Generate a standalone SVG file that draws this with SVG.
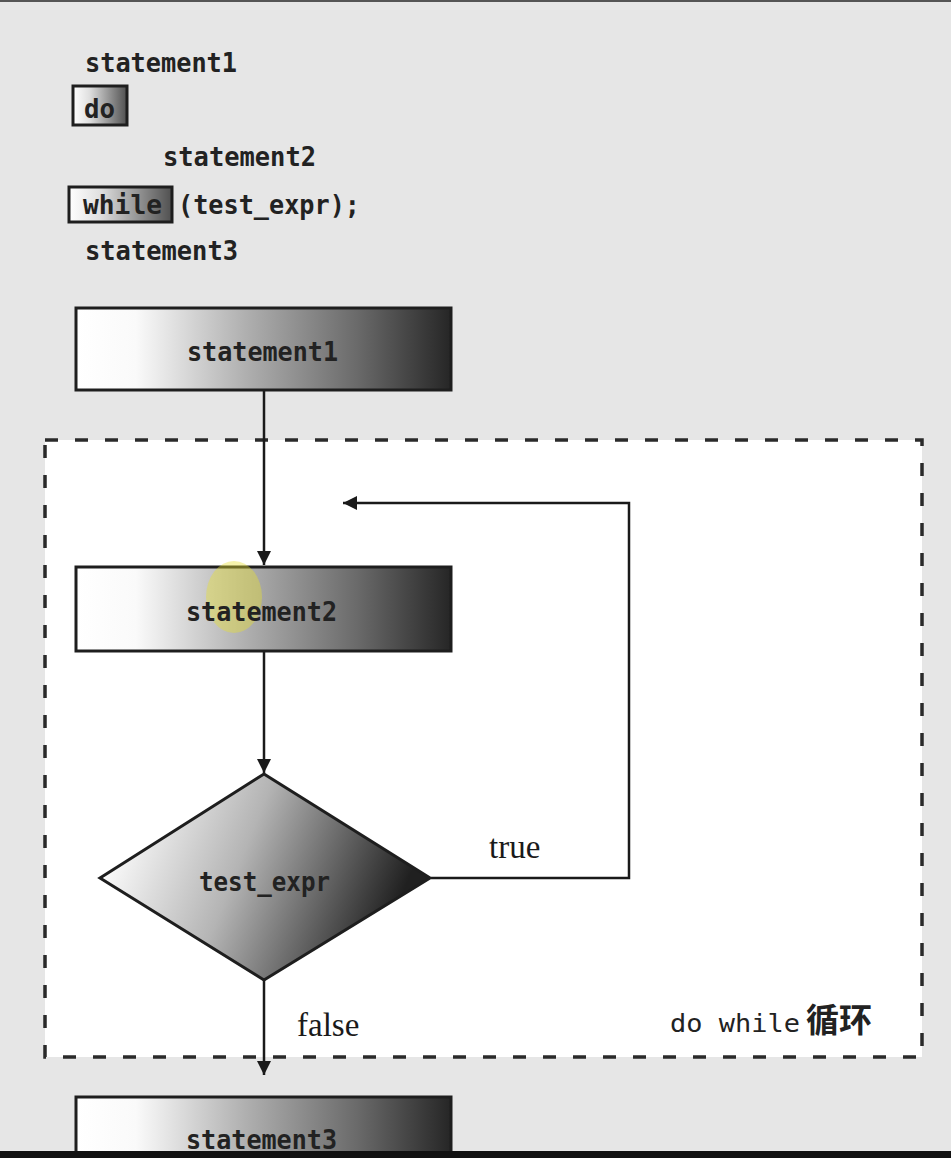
<svg xmlns="http://www.w3.org/2000/svg" width="951" height="1158" viewBox="0 0 951 1158">
<defs>
<linearGradient id="g" x1="0" y1="0" x2="1" y2="0">
<stop offset="0" stop-color="#ffffff"/>
<stop offset="0.16" stop-color="#fafafa"/>
<stop offset="0.45" stop-color="#b0b0b0"/>
<stop offset="0.75" stop-color="#6a6a6a"/>
<stop offset="1" stop-color="#262626"/>
</linearGradient>
<linearGradient id="gs" x1="0" y1="0" x2="1" y2="0">
<stop offset="0" stop-color="#ffffff"/>
<stop offset="0.3" stop-color="#e0e0e0"/>
<stop offset="1" stop-color="#505050"/>
</linearGradient>
<linearGradient id="gd" x1="0" y1="0" x2="1" y2="0.25">
<stop offset="0.1" stop-color="#ffffff"/>
<stop offset="0.5" stop-color="#b4b4b4"/>
<stop offset="1" stop-color="#202020"/>
</linearGradient>
<marker id="ah" viewBox="0 0 10 10" refX="10" refY="5" markerWidth="14" markerHeight="14" markerUnits="userSpaceOnUse" orient="auto">
<path d="M0,0 L10,5 L0,10 z" fill="#1a1a1a"/>
</marker>
<style>
.code{font-family:"DejaVu Sans Mono","Liberation Mono",monospace;font-size:27px;font-weight:bold;fill:#222}
.box{stroke:#1e1e1e;stroke-width:3}
.lbl{font-family:"DejaVu Sans Mono","Liberation Mono",monospace;font-size:26px;font-weight:bold;fill:#222}
.ser{font-family:"Liberation Serif",serif;font-size:33px;fill:#1a1a1a}
.line{stroke:#1a1a1a;stroke-width:2.5;fill:none}
</style>
</defs>
<rect x="0" y="0" width="951" height="1158" fill="#e6e6e6"/>
<rect x="0" y="0" width="951" height="2" fill="#555"/>

<g id="code">
<text class="code" x="85" y="72" textLength="152" lengthAdjust="spacingAndGlyphs">statement1</text>
<rect class="box" x="73" y="86" width="54" height="39" fill="url(#gs)"/>
<text class="code" x="84" y="118" textLength="31" lengthAdjust="spacingAndGlyphs">do</text>
<text class="code" x="163" y="166" textLength="153" lengthAdjust="spacingAndGlyphs">statement2</text>
<rect class="box" x="69" y="187" width="103" height="35" fill="url(#gs)"/>
<text class="code" x="83" y="214" textLength="79" lengthAdjust="spacingAndGlyphs">while</text>
<text class="code" x="178" y="214" textLength="182" lengthAdjust="spacingAndGlyphs">(test_expr);</text>
<text class="code" x="85" y="260" textLength="153" lengthAdjust="spacingAndGlyphs">statement3</text>
</g>

<g id="loop-frame">
<rect x="45" y="440" width="877" height="617" fill="#ffffff" stroke="#2a2a2a" stroke-width="3.5" stroke-dasharray="13 17"/>
<text x="670" y="1032" font-family="DejaVu Sans Mono,'Liberation Mono',monospace" font-size="25" fill="#222" textLength="130" lengthAdjust="spacingAndGlyphs">do while</text>
<text x="806" y="1032" font-family="'Noto Sans CJK SC',sans-serif" font-size="33" font-weight="bold" fill="#222">循环</text>
</g>

<g id="connectors">
<line class="line" x1="264" y1="391" x2="264" y2="565" marker-end="url(#ah)"/>
<line class="line" x1="264" y1="652" x2="264" y2="773" marker-end="url(#ah)"/>
<polyline class="line" points="431,878 629,878 629,503 343,503" marker-end="url(#ah)"/>
<line class="line" x1="264" y1="980" x2="264" y2="1075" marker-end="url(#ah)"/>
<text class="ser" x="489" y="858">true</text>
<text class="ser" x="297" y="1036">false</text>
</g>

<g id="statement1">
<rect class="box" x="76" y="308" width="375" height="82" fill="url(#g)"/>
<text class="lbl" x="187" y="361" textLength="151" lengthAdjust="spacingAndGlyphs">statement1</text>
</g>

<g id="statement2">
<rect class="box" x="76" y="567" width="375" height="84" fill="url(#g)"/>
<ellipse cx="234" cy="597" rx="28" ry="36" fill="#e8e030" opacity="0.4"/>
<text class="lbl" x="186" y="621" textLength="151" lengthAdjust="spacingAndGlyphs">statement2</text>
</g>

<g id="test_expr">
<polygon points="100,878 264,774 430,878 264,980" fill="url(#gd)" stroke="#1e1e1e" stroke-width="3"/>
<text class="lbl" x="199" y="891" textLength="131" lengthAdjust="spacingAndGlyphs">test_expr</text>
</g>

<g id="statement3">
<rect class="box" x="76" y="1097" width="375" height="80" fill="url(#g)"/>
<text class="lbl" x="186" y="1149" textLength="151" lengthAdjust="spacingAndGlyphs">statement3</text>
</g>
<rect x="0" y="1151" width="951" height="7" fill="#111"/>
</svg>
